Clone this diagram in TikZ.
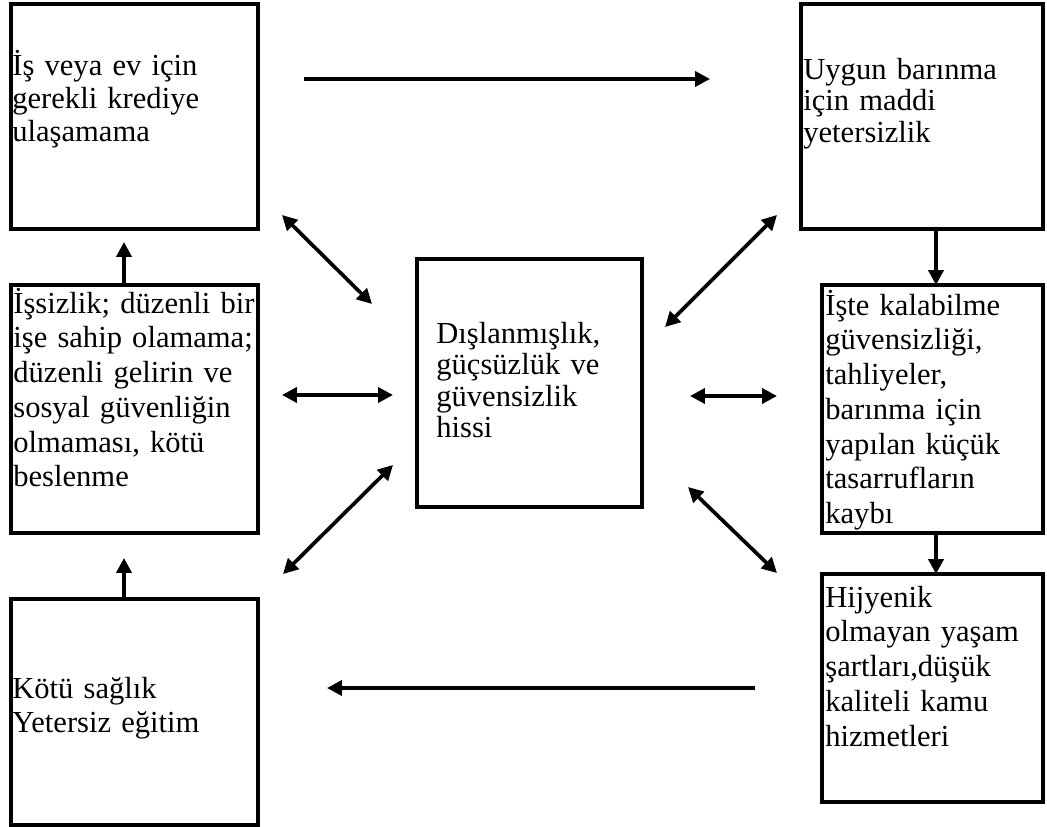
\documentclass[tikz,border=0pt]{standalone}
\usepackage{fontspec}
\setmainfont{Liberation Serif}
\usetikzlibrary{arrows.meta}
\begin{document}
\begin{tikzpicture}[x=0.02cm,y=-0.02cm]
\tikzstyle{every node}+=[inner sep=0pt]
\tikzstyle{box}=[draw=black,line width=1.9pt,outer sep=0pt]
\tikzstyle{txt}=[anchor=base west,text width=5cm,align=left,font=\fontsize{17.4}{19.8}\selectfont]
\tikzstyle{arr}=[line width=2.1pt,-{Triangle[length=0.3cm,width=0.3cm]}]
\tikzstyle{darr}=[line width=2.1pt,{Triangle[length=0.3cm,width=0.3cm]}-{Triangle[length=0.3cm,width=0.3cm]}]
\useasboundingbox (0,0) rectangle (1047,827);
\node[box,minimum width=4.94cm,minimum height=4.5cm] (kredi) at (134.5,116.5) {};
\node[box,minimum width=4.94cm,minimum height=4.96cm] (issiz) at (134.5,409) {};
\node[box,minimum width=4.94cm,minimum height=4.52cm] (saglik) at (134.5,712) {};
\node[box,minimum width=4.5cm,minimum height=4.96cm] (dislan) at (529.5,383) {};
\node[box,minimum width=4.84cm,minimum height=4.5cm] (barin) at (922,116.5) {};
\node[box,minimum width=4.42cm,minimum height=4.96cm] (tahliye) at (932.5,409) {};
\node[box,minimum width=4.42cm,minimum height=4.56cm] (hijyen) at (932.5,688) {};
\node[txt,font=\fontsize{17.4}{18.8}\selectfont] (t-kredi) at ([shift={(1,71)}]kredi.north west) {İş veya ev için\\gerekli krediye\\ulaşamama};
\node[txt] (t-issiz) at ([shift={(2,28)}]issiz.north west) {İşsizlik; düzenli bir\\işe sahip olamama;\\düzenli gelirin ve\\sosyal güvenliğin\\olmaması, kötü\\beslenme};
\node[txt] (t-saglik) at ([shift={(1,99)}]saglik.north west) {Kötü sağlık\\Yetersiz eğitim};
\node[txt,font=\fontsize{17.4}{18}\selectfont] (t-dislan) at ([shift={(19,84)}]dislan.north west) {Dışlanmışlık,\\güçsüzlük ve\\güvensizlik\\hissi};
\node[txt,font=\fontsize{17.4}{18.2}\selectfont] (t-barin) at ([shift={(2,75)}]barin.north west) {Uygun barınma\\için maddi\\yetersizlik};
\node[txt] (t-tahliye) at ([shift={(3,30)}]tahliye.north west) {İşte kalabilme\\güvensizliği,\\tahliyeler,\\barınma için\\yapılan küçük\\tasarrufların\\kaybı};
\node[txt] (t-hijyen) at ([shift={(3,33)}]hijyen.north west) {Hijyenik\\olmayan yaşam\\şartları,düşük\\kaliteli kamu\\hizmetleri};
\coordinate (colL) at (124,0);
\coordinate (colR) at (936,0);
\coordinate (rowT) at (0,79);
\coordinate (rowB) at (0,688);
\draw[arr,shorten >=0.26cm] (issiz.north -| colL) -- (kredi.south -| colL);
\draw[arr,shorten >=0.5cm] (saglik.north -| colL) -- (issiz.south -| colL);
\draw[arr] (barin.south -| colR) -- (tahliye.north -| colR);
\draw[arr] (tahliye.south -| colR) -- (hijyen.north -| colR);
\draw[arr,shorten <=0.92cm,shorten >=1.82cm] (kredi.east |- rowT) -- (barin.west |- rowT);
\draw[arr,shorten <=1.34cm,shorten >=1.38cm] (hijyen.west |- rowB) -- (saglik.east |- rowB);
\draw[darr] ([shift={(24,-14)}]kredi.south east) -- ([shift={(-45,45)}]dislan.north west);
\draw[darr] ([shift={(-24,-14)}]barin.south west) -- ([shift={(23,68)}]dislan.north east);
\draw[darr] ([shift={(24,-14)}]issiz.east) -- ([shift={(-24,12)}]dislan.west);
\draw[darr] ([shift={(48,13)}]dislan.east) -- ([shift={(-45,-13)}]tahliye.west);
\draw[darr] ([shift={(25,-25)}]saglik.north east) -- ([shift={(-24,-42)}]dislan.south west);
\draw[darr] ([shift={(46,-20)}]dislan.south east) -- ([shift={(-45,-1)}]hijyen.north west);
\end{tikzpicture}
\end{document}
